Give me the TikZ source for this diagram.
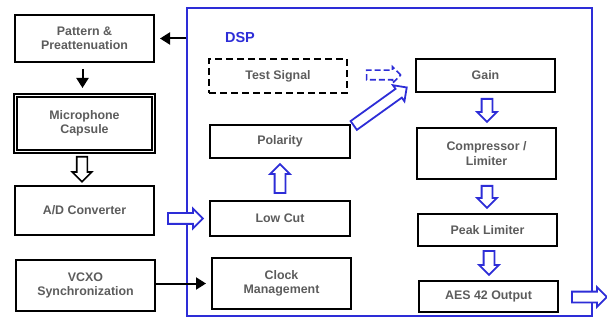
\documentclass[tikz,border=0pt]{standalone}
\usepackage{fontspec}
\setmainfont{Liberation Sans}
\usetikzlibrary{shapes.arrows,arrows.meta,calc}
\definecolor{dspblue}{RGB}{45,45,215}
\definecolor{txtgray}{RGB}{92,92,92}
\tikzset{
  boxtxt/.style={text=txtgray, font=\bfseries\fontsize{12.4}{14.5}\selectfont, align=center, inner sep=0pt},
  blk/.style={boxtxt, draw=black, line width=2pt, minimum width=139pt},
  dblbox/.style={boxtxt, draw=black, line width=1.6pt, double=white, double distance=1.4pt},
  dashbox/.style={boxtxt, draw=black, line width=1.6pt, dash pattern=on 7pt off 4pt},
  dspframe/.style={draw=dspblue, line width=2pt, inner sep=0pt},
  dsptxt/.style={text=dspblue, font=\bfseries\fontsize{14.5}{16}\selectfont, inner sep=0pt},
  harrowbase/.style={shape=single arrow, inner xsep=0pt, inner ysep=4.5pt, minimum width=0pt,
    single arrow head extend=4.5pt, single arrow tip angle=90, anchor=tail},
  harrowblue/.style={harrowbase, draw=dspblue, line width=1.8pt, fill=white},
  harrowblack/.style={harrowbase, draw=black, line width=1.6pt, fill=white},
  harrowdash/.style={harrowbase, draw=dspblue, line width=1.6pt, inner ysep=4pt, single arrow head extend=3.5pt, dash pattern=on 6pt off 3pt},
  blkarrow/.style={draw=black, line width=2pt, -{Triangle[width=12pt,length=10pt]}},
}
\newcommand\hollowarrow[3]{%
  \path let \p1=#2, \p2=#3, \n1={veclen(\x2-\x1,\y2-\y1)}, \n2={atan2(\y2-\y1,\x2-\x1)} in
    node[#1, minimum height=\n1, rotate=\n2] at (\p1) {};}
\begin{document}
\begin{tikzpicture}[x=1pt,y=-1pt]
\useasboundingbox (0,0) rectangle (607,320);
% DSP frame
\node[dspframe, minimum width=405pt, minimum height=308pt] (dsp) at (389.5,162) {};
\node[dsptxt] (dsplabel) at (240,38) {DSP};
% left column
\node[blk, minimum height=47pt] (pattern) at (84.5,38.5) {Pattern \&\\Preattenuation};
\node[dblbox, minimum width=138.4pt, minimum height=56.4pt] (mic) at (84.5,123.5) {Microphone\\Capsule};
\node[blk, minimum height=49pt] (ad) at (84.5,210.5) {A/D Converter};
\node[blk, minimum height=51pt] (vcxo) at (85.5,285.5) {VCXO\\Synchronization};
% DSP middle column
\node[dashbox, minimum width=138pt, minimum height=34pt] (test) at (278,76) {Test Signal};
\node[blk, minimum width=140pt, minimum height=33pt] (polarity) at (280,141.5) {Polarity};
\node[blk, minimum width=140pt, minimum height=35pt] (lowcut) at (280,218.5) {Low Cut};
\node[blk, minimum height=51pt] (clock) at (281.5,283.5) {Clock\\Management};
% DSP right column
\node[blk, minimum height=33pt] (gain) at (485.5,75.5) {Gain};
\node[blk, minimum height=51pt] (comp) at (486.5,153.5) {Compressor /\\Limiter};
\node[blk, minimum height=32pt] (peak) at (487.5,230) {Peak Limiter};
\node[blk, minimum height=31pt] (aes) at (488.5,296.5) {AES 42 Output};
\coordinate (outtip) at (606,297);
% black arrows
\draw[blkarrow, shorten >=5pt] (dsp.west |- pattern.east) -- (pattern.east);
\draw[blkarrow] ($(pattern.south)+(-2,6)$) -- ($(mic.north)+(-2,-6.5)$);
\draw[blkarrow, shorten >=5pt] (vcxo.east |- clock.west) -- (clock.west);
% hollow arrows
\hollowarrow{harrowblack}{($(mic.south)+(-2.5,3.5)$)}{($(ad.north)+(-2.5,-4)$)}
\hollowarrow{harrowblue}{($(ad.east |- lowcut.west)+(12,0)$)}{($(lowcut.west)+(-7,0)$)}
\hollowarrow{harrowblue}{($(lowcut.north)+(0,-6)$)}{($(polarity.south)+(0,6)$)}
\hollowarrow{harrowdash}{($(test.east)+(18,-1)$)}{($(gain.west)+(-15,-0.5)$)}
\hollowarrow{harrowblue}{($(polarity.north east)+(2,2)$)}{($(gain.south west)+(-9,-5)$)}
\hollowarrow{harrowblue}{($(gain.south)+(1.5,5)$)}{($(comp.north)+(0.5,-6)$)}
\hollowarrow{harrowblue}{($(comp.south)+(0.5,5)$)}{($(peak.north)+(-0.5,-6)$)}
\hollowarrow{harrowblue}{($(peak.south)+(1.5,3)$)}{($(aes.north)+(0.5,-6)$)}
\hollowarrow{harrowblue}{($(aes.east |- outtip)+(12,0)$)}{(outtip)}
\end{tikzpicture}
\end{document}
